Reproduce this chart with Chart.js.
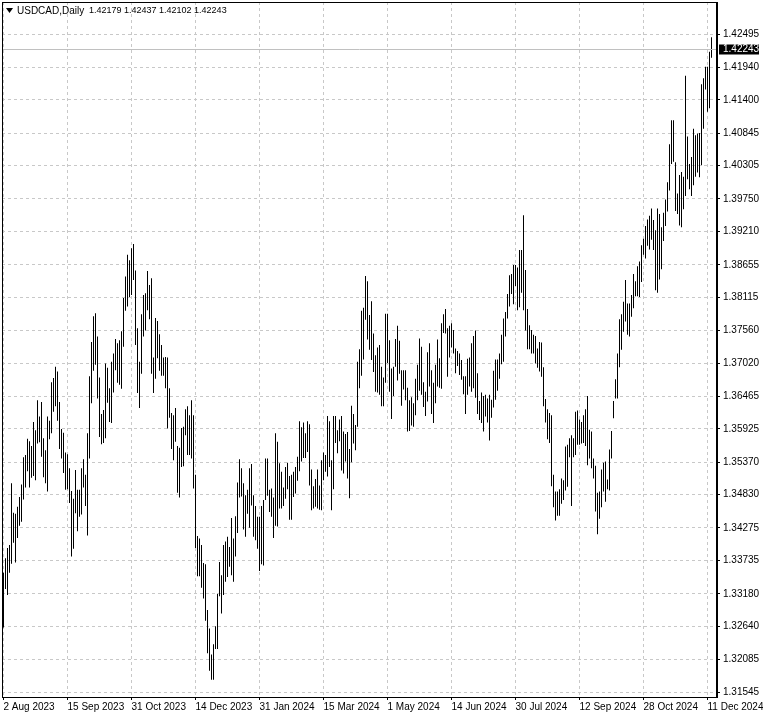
<!DOCTYPE html>
<html>
<head>
<meta charset="UTF-8">
<title>USDCAD,Daily</title>
<style>
  body { margin: 0; background: #fff; }
  #wrap { width: 763px; height: 717px; position: relative; }
</style>
</head>
<body>
<div id="wrap"><canvas id="chart"></canvas></div>
<script src="https://cdn.jsdelivr.net/npm/chart.js"></script>
<script>
// daily high / low, one entry per bar, oldest first (2 Aug 2023 .. 13 Dec 2024)
const highs = [
  1.3353,1.3377,1.3394,1.3399,1.3502,1.3453,1.3451,1.3463,1.3479,1.3500,
  1.3545,1.3549,1.3576,1.3572,1.3564,1.3604,1.3590,1.3640,1.3613,1.3637,
  1.3577,1.3557,1.3613,1.3606,1.3670,1.3677,1.3696,1.3688,1.3637,1.3592,
  1.3586,1.3553,1.3550,1.3527,1.3489,1.3476,1.3524,1.3491,1.3491,1.3527,
  1.3542,1.3516,1.3585,1.3680,1.3737,1.3780,1.3785,1.3746,1.3678,1.3617,
  1.3624,1.3701,1.3694,1.3660,1.3704,1.3718,1.3742,1.3735,1.3740,1.3755,
  1.3810,1.3846,1.3882,1.3873,1.3893,1.3900,1.3856,1.3760,1.3704,1.3783,
  1.3815,1.3818,1.3855,1.3832,1.3843,1.3711,1.3777,1.3772,1.3750,1.3732,
  1.3711,1.3712,1.3711,1.3660,1.3619,1.3615,1.3627,1.3564,1.3561,1.3594,
  1.3596,1.3625,1.3630,1.3615,1.3640,1.3615,1.3516,1.3414,1.3410,1.3399,
  1.3369,1.3367,1.3291,1.3260,1.3217,1.3234,1.3264,1.3318,1.3371,1.3349,
  1.3399,1.3405,1.3413,1.3396,1.3444,1.3410,1.3447,1.3503,1.3542,1.3527,
  1.3502,1.3482,1.3491,1.3527,1.3534,1.3482,1.3464,1.3446,1.3446,1.3464,
  1.3474,1.3543,1.3543,1.3491,1.3493,1.3478,1.3585,1.3571,1.3535,1.3521,
  1.3495,1.3529,1.3536,1.3514,1.3516,1.3521,1.3529,1.3546,1.3605,1.3595,
  1.3603,1.3585,1.3605,1.3600,1.3525,1.3497,1.3509,1.3525,1.3498,1.3540,
  1.3553,1.3549,1.3614,1.3605,1.3540,1.3614,1.3614,1.3590,1.3608,1.3614,
  1.3588,1.3584,1.3587,1.3559,1.3631,1.3617,1.3599,1.3704,1.3725,1.3789,
  1.3794,1.3847,1.3838,1.3782,1.3805,1.3751,1.3715,1.3728,1.3732,1.3696,
  1.3678,1.3784,1.3784,1.3740,1.3693,1.3696,1.3742,1.3764,1.3739,1.3690,
  1.3690,1.3690,1.3661,1.3640,1.3645,1.3635,1.3676,1.3699,1.3743,1.3729,
  1.3670,1.3654,1.3720,1.3735,1.3690,1.3669,1.3699,1.3741,1.3710,1.3768,
  1.3783,1.3792,1.3760,1.3764,1.3768,1.3757,1.3726,1.3722,1.3718,1.3707,
  1.3680,1.3680,1.3709,1.3711,1.3735,1.3747,1.3756,1.3685,1.3639,1.3653,
  1.3647,1.3649,1.3643,1.3649,1.3641,1.3689,1.3708,1.3708,1.3718,1.3749,
  1.3776,1.3787,1.3817,1.3848,1.3850,1.3865,1.3865,1.3861,1.3890,1.3890,
  1.3948,1.3857,1.3792,1.3765,1.3757,1.3749,1.3747,1.3726,1.3737,1.3736,
  1.3695,1.3642,1.3625,1.3619,1.3615,1.3516,1.3488,1.3488,1.3492,1.3510,
  1.3507,1.3563,1.3566,1.3577,1.3582,1.3577,1.3621,1.3623,1.3608,1.3604,
  1.3615,1.3625,1.3647,1.3591,1.3588,1.3543,1.3531,1.3486,1.3488,1.3525,
  1.3536,1.3538,1.3508,1.3558,1.3589,1.3639,1.3675,1.3718,1.3775,1.3783,
  1.3804,1.3840,1.3801,1.3801,1.3815,1.3850,1.3838,1.3863,1.3871,1.3898,
  1.3909,1.3930,1.3941,1.3947,1.3959,1.3940,1.3923,1.3959,1.3950,1.3928,
  1.3952,1.3974,1.4003,1.4066,1.4106,1.4106,1.4036,1.3984,1.4015,1.4020,
  1.4012,1.4180,1.4079,1.4033,1.4045,1.4092,1.4081,1.4084,1.4085,1.4166,
  1.4176,1.4195,1.4195,1.4220,1.4244
];
const lows = [
  1.3262,1.3326,1.3316,1.3353,1.3368,1.3403,1.3370,1.3411,1.3431,1.3438,
  1.3475,1.3495,1.3522,1.3495,1.3511,1.3514,1.3507,1.3568,1.3570,1.3546,
  1.3512,1.3502,1.3488,1.3575,1.3585,1.3621,1.3630,1.3606,1.3559,1.3543,
  1.3519,1.3491,1.3492,1.3469,1.3380,1.3393,1.3452,1.3422,1.3446,1.3450,
  1.3495,1.3464,1.3415,1.3543,1.3635,1.3689,1.3699,1.3643,1.3579,1.3567,
  1.3569,1.3577,1.3636,1.3604,1.3602,1.3653,1.3690,1.3669,1.3666,1.3659,
  1.3729,1.3789,1.3796,1.3812,1.3815,1.3840,1.3732,1.3652,1.3627,1.3684,
  1.3746,1.3756,1.3790,1.3775,1.3684,1.3652,1.3676,1.3710,1.3689,1.3681,
  1.3681,1.3660,1.3593,1.3611,1.3559,1.3540,1.3571,1.3486,1.3478,1.3529,
  1.3530,1.3582,1.3549,1.3549,1.3543,1.3493,1.3394,1.3347,1.3347,1.3328,
  1.3310,1.3273,1.3219,1.3190,1.3175,1.3175,1.3226,1.3226,1.3314,1.3285,
  1.3316,1.3338,1.3346,1.3363,1.3349,1.3338,1.3380,1.3419,1.3478,1.3480,
  1.3425,1.3413,1.3451,1.3428,1.3465,1.3413,1.3407,1.3393,1.3356,1.3367,
  1.3365,1.3474,1.3481,1.3454,1.3446,1.3411,1.3431,1.3430,1.3460,1.3460,
  1.3464,1.3476,1.3492,1.3441,1.3441,1.3479,1.3485,1.3506,1.3522,1.3538,
  1.3544,1.3544,1.3554,1.3498,1.3457,1.3460,1.3463,1.3460,1.3458,1.3457,
  1.3507,1.3521,1.3513,1.3529,1.3457,1.3492,1.3569,1.3552,1.3572,1.3523,
  1.3518,1.3538,1.3510,1.3477,1.3537,1.3568,1.3557,1.3596,1.3660,1.3681,
  1.3708,1.3774,1.3741,1.3724,1.3707,1.3687,1.3654,1.3653,1.3649,1.3630,
  1.3630,1.3669,1.3702,1.3654,1.3609,1.3647,1.3696,1.3673,1.3684,1.3631,
  1.3658,1.3640,1.3588,1.3589,1.3598,1.3596,1.3615,1.3640,1.3656,1.3649,
  1.3629,1.3614,1.3638,1.3663,1.3617,1.3602,1.3635,1.3663,1.3661,1.3659,
  1.3752,1.3751,1.3679,1.3711,1.3728,1.3718,1.3685,1.3697,1.3682,1.3674,
  1.3650,1.3617,1.3649,1.3663,1.3654,1.3660,1.3644,1.3617,1.3607,1.3602,
  1.3588,1.3613,1.3603,1.3573,1.3611,1.3628,1.3641,1.3656,1.3676,1.3700,
  1.3704,1.3746,1.3776,1.3796,1.3817,1.3800,1.3830,1.3790,1.3795,1.3819,
  1.3790,1.3756,1.3725,1.3725,1.3718,1.3718,1.3701,1.3694,1.3688,1.3679,
  1.3630,1.3603,1.3575,1.3569,1.3497,1.3462,1.3440,1.3448,1.3448,1.3468,
  1.3474,1.3490,1.3496,1.3545,1.3464,1.3545,1.3549,1.3566,1.3566,1.3568,
  1.3569,1.3564,1.3532,1.3543,1.3527,1.3510,1.3455,1.3417,1.3443,1.3462,
  1.3488,1.3471,1.3492,1.3490,1.3543,1.3610,1.3643,1.3643,1.3695,1.3724,
  1.3754,1.3771,1.3749,1.3746,1.3779,1.3793,1.3813,1.3813,1.3812,1.3837,
  1.3882,1.3876,1.3897,1.3891,1.3907,1.3890,1.3823,1.3819,1.3841,1.3858,
  1.3905,1.3930,1.3954,1.3989,1.4033,1.4037,1.3955,1.3950,1.3931,1.3928,
  1.3958,1.3980,1.4008,1.3991,1.3980,1.3998,1.4012,1.4019,1.4011,1.4031,
  1.4092,1.4157,1.4120,1.4126,1.4210
];

// time axis labels (bar index where each label sits)
const dateTickIndex = [0, 32, 64, 96, 128, 160, 192, 224, 256, 288, 320, 352];
const dateTickText = ['2 Aug 2023', '15 Sep 2023', '31 Oct 2023', '14 Dec 2023', '31 Jan 2024', '15 Mar 2024',
                      '1 May 2024', '14 Jun 2024', '30 Jul 2024', '12 Sep 2024', '28 Oct 2024', '11 Dec 2024'];

// price axis labels
const priceTicks = [1.42495, 1.41940, 1.41400, 1.40845, 1.40305, 1.39750, 1.39210, 1.38655, 1.38115, 1.37560,
                    1.37020, 1.36465, 1.35925, 1.35370, 1.34830, 1.34275, 1.33735, 1.33180, 1.32640, 1.32085, 1.31545];

const symbolTitle = 'USDCAD,Daily';
const lastBar = { open: 1.42179, high: 1.42437, low: 1.42102, close: 1.42243 };

const FONT = { family: 'Liberation Sans, Arial, sans-serif', size: 10 };

// frame, header text and the current price marker
const mtPlugin = {
  id: 'mtDecor',
  afterDraw(chart) {
    const { ctx, chartArea: a } = chart;
    const y = chart.scales.y;
    ctx.save();
    // bid line
    const py = Math.round(y.getPixelForValue(lastBar.close)) + 0.5;
    ctx.strokeStyle = '#c0c0c0';
    ctx.lineWidth = 1;
    ctx.beginPath();
    ctx.moveTo(a.left, py);
    ctx.lineTo(a.right, py);
    ctx.stroke();
    // frame
    ctx.strokeStyle = '#000';
    ctx.strokeRect(a.left + 0.5, a.top + 0.5, a.right - a.left - 1, a.bottom - a.top);
    // price tag
    ctx.font = FONT.size + 'px ' + FONT.family;
    const txt = lastBar.close.toFixed(5);
    ctx.fillStyle = '#000';
    ctx.fillRect(a.right + 2, py - 5, 40, 10);
    ctx.fillStyle = '#fff';
    ctx.textBaseline = 'middle';
    ctx.fillText(txt, a.right + 6, py);
    // header
    ctx.fillStyle = '#000';
    ctx.beginPath();
    ctx.moveTo(a.left + 4, a.top + 6);
    ctx.lineTo(a.left + 11, a.top + 6);
    ctx.lineTo(a.left + 7.5, a.top + 11);
    ctx.closePath();
    ctx.fill();
    ctx.fillText(symbolTitle, a.left + 15, a.top + 9);
    ctx.font = '9px ' + FONT.family;
    const nums = [lastBar.open, lastBar.high, lastBar.low, lastBar.close].map(v => v.toFixed(5)).join(' ');
    ctx.fillText(nums, a.left + 87, a.top + 9);
    ctx.restore();
  }
};

const bars = highs.map((h, i) => ({ x: i, y: [lows[i], h] }));

new Chart(document.getElementById('chart'), {
  type: 'bar',
  data: {
    datasets: [{
      data: bars,
      backgroundColor: '#000',
      borderWidth: 0,
      barThickness: 1,
      inflateAmount: 0
    }]
  },
  options: {
    responsive: true,
    maintainAspectRatio: false,
    animation: false,
    layout: { padding: { left: 2, top: 2, right: 0, bottom: 0 } },
    plugins: { legend: { display: false }, tooltip: { enabled: false } },
    scales: {
      x: {
        type: 'linear',
        offset: false,
        min: -0.75,
        max: 356.75,
        afterBuildTicks(s) { s.ticks = dateTickIndex.map(v => ({ value: v })); },
        afterFit(s) { s.height = 20; s.paddingLeft = 0; s.paddingRight = 0; },
        grid: { offset: false, color: '#c8c8c8', tickColor: '#000', tickLength: 3, tickBorderDash: [] },
        border: { display: true, color: '#000', dash: [3, 3] },
        ticks: {
          autoSkip: false, maxRotation: 0, align: 'start', padding: 1,
          color: '#000', font: FONT,
          callback: v => dateTickText[dateTickIndex.indexOf(v)]
        }
      },
      y: {
        position: 'right',
        min: 1.31462,
        max: 1.43028,
        afterBuildTicks(s) { s.ticks = priceTicks.map(v => ({ value: v })); },
        afterFit(s) { s.width = 46; s.paddingTop = 0; s.paddingBottom = 0; },
        grid: { color: '#c8c8c8', tickColor: '#000', tickLength: 3, tickBorderDash: [] },
        border: { display: true, color: '#000', dash: [3, 3] },
        ticks: {
          autoSkip: false, padding: 3, color: '#000', font: FONT,
          callback: v => v.toFixed(5)
        }
      }
    }
  },
  plugins: [mtPlugin]
});
</script>
</body>
</html>
